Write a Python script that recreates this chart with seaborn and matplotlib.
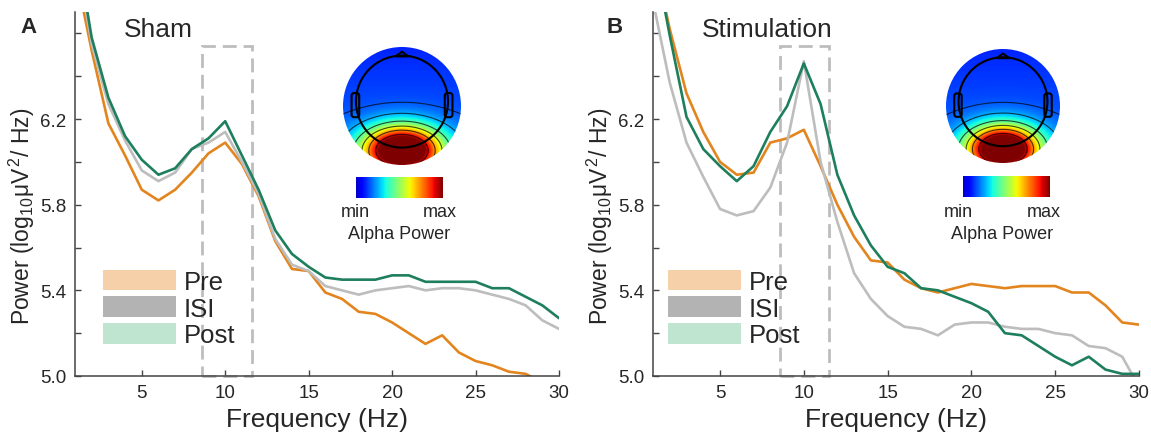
import numpy as np
import pandas as pd
import matplotlib
matplotlib.use('Agg')
import matplotlib.pyplot as plt
import seaborn as sns
from matplotlib.patches import Patch, Rectangle, Circle, Polygon, FancyBboxPatch

# %% data
freqs = list(range(1, 31))

sham_pre = [6.90, 6.52, 6.18, 6.03, 5.87, 5.82, 5.87, 5.95, 6.04, 6.09,
            5.99, 5.84, 5.63, 5.50, 5.49, 5.39, 5.36, 5.30, 5.29, 5.25,
            5.20, 5.15, 5.19, 5.11, 5.07, 5.05, 5.02, 5.01, 4.97, 4.95]
sham_isi = [7.00, 6.55, 6.27, 6.10, 5.96, 5.91, 5.95, 6.06, 6.09, 6.14,
            6.00, 5.85, 5.64, 5.52, 5.49, 5.42, 5.40, 5.38, 5.40, 5.41,
            5.42, 5.40, 5.41, 5.41, 5.40, 5.38, 5.36, 5.33, 5.26, 5.22]
sham_post = [7.05, 6.58, 6.30, 6.12, 6.01, 5.94, 5.97, 6.06, 6.11, 6.19,
             6.03, 5.87, 5.68, 5.57, 5.51, 5.46, 5.45, 5.45, 5.45, 5.47,
             5.47, 5.44, 5.44, 5.44, 5.44, 5.41, 5.41, 5.37, 5.33, 5.27]

stim_pre = [6.98, 6.62, 6.32, 6.14, 6.00, 5.94, 5.95, 6.09, 6.11, 6.15,
            5.98, 5.80, 5.65, 5.54, 5.53, 5.45, 5.41, 5.39, 5.41, 5.43,
            5.42, 5.41, 5.42, 5.42, 5.42, 5.39, 5.39, 5.33, 5.25, 5.24]
stim_isi = [6.75, 6.37, 6.09, 5.93, 5.78, 5.75, 5.77, 5.88, 6.09, 6.47,
            6.00, 5.72, 5.48, 5.36, 5.28, 5.23, 5.22, 5.19, 5.24, 5.25,
            5.25, 5.23, 5.22, 5.22, 5.20, 5.19, 5.14, 5.13, 5.09, 4.95]
stim_post = [7.00, 6.59, 6.21, 6.06, 5.98, 5.91, 5.98, 6.14, 6.26, 6.46,
             6.27, 5.94, 5.75, 5.61, 5.51, 5.48, 5.41, 5.40, 5.37, 5.34,
             5.30, 5.20, 5.19, 5.14, 5.09, 5.05, 5.09, 5.03, 5.01, 5.01]

conditions = ['Pre', 'ISI', 'Post']
line_colors = {'Pre': '#E3851F', 'ISI': '#BDBDBD', 'Post': '#1E7F5C'}
legend_colors = ['#F5D0A9', '#B3B3B3', '#BFE5D1']

# alpha band boxes (Hz) and box top
sham_band = (8.6, 11.6)
stim_band = (8.55, 11.5)
band_top = 6.54

# %% style
sns.set_style('ticks')
plt.rcParams['font.family'] = ['Liberation Sans', 'DejaVu Sans']
plt.rcParams['mathtext.fontset'] = 'custom'
plt.rcParams['mathtext.rm'] = 'Liberation Sans'
plt.rcParams['mathtext.it'] = 'Liberation Sans:italic'
plt.rcParams['mathtext.default'] = 'regular'

W, H = 1151, 435
fig = plt.figure(figsize=(W / 100, H / 100), dpi=100)


def px_rect(x0, y0, x1, y1):
    # pixel box (top-left origin) -> figure fraction rect
    return [x0 / W, 1 - y1 / H, (x1 - x0) / W, (y1 - y0) / H]


def draw_panel(ax, pre, isi, post, band, title, letter, letter_x):
    df = pd.DataFrame({
        'freq': freqs * 3,
        'power': pre + isi + post,
        'condition': ['Pre'] * 30 + ['ISI'] * 30 + ['Post'] * 30,
    })
    sns.lineplot(data=df, x='freq', y='power', hue='condition', hue_order=conditions,
                 palette=line_colors, linewidth=1.9, legend=False, ax=ax)
    ax.set_xlim(1, 30)
    ax.set_ylim(5.0, 6.7)
    ax.set_xticks([5, 10, 15, 20, 25, 30])
    ax.set_yticks([5.0, 5.4, 5.8, 6.2])
    ax.set_yticks([5.2, 5.6, 6.0, 6.4, 6.6], minor=True)
    ax.set_yticklabels(['5.0', '5.4', '5.8', '6.2'])
    ax.tick_params(axis='both', which='both', direction='in', length=4, width=1,
                   color='#444444', labelsize=13.5, pad=6)
    sns.despine(ax=ax)
    for s in ['left', 'bottom']:
        ax.spines[s].set_color('#444444')
        ax.spines[s].set_linewidth(1.1)
    ax.set_xlabel('Frequency (Hz)', fontsize=19, labelpad=4)
    ax.set_ylabel(r'Power (log$_{10}\mu$V$^{\,2}$/ Hz)', fontsize=16.5)
    ax.yaxis.set_label_coords(-0.079, 0.44)

    rect = Rectangle((band[0], 5.0), band[1] - band[0], band_top - 5.0, fill=False,
                     edgecolor='#BDBDBD', linewidth=2, linestyle=(0, (5, 2.5)), clip_on=False, zorder=1)
    ax.add_patch(rect)

    ax.text(0.10, 0.934, title, transform=ax.transAxes, fontsize=19, ha='left', va='baseline')
    ax.text(letter_x, 0.945, letter, transform=ax.transAxes, fontsize=16, fontweight='bold',
            ha='left', va='baseline')

    handles = [Patch(facecolor=c, edgecolor='none') for c in legend_colors]
    ax.legend(handles, conditions, loc='upper left', bbox_to_anchor=(legend_x[letter], 0.292),
              frameon=False, fontsize=18.5, handlelength=2.85, handleheight=0.85,
              labelspacing=0.1, handletextpad=0.3, borderpad=0, borderaxespad=0)


legend_x = {'A': 0.058, 'B': 0.031}


def draw_topo(cx, cy, r, blob_w, blob_h, blob_y):
    half = 1.08 * r
    tax = fig.add_axes(px_rect(cx - half, cy - half, cx + half, cy + half))
    g = np.linspace(-1.08, 1.08, 300)
    X, Y = np.meshgrid(g, g)
    Z = 0.16 + 0.04 * (1 - Y) + 1.1 * np.exp(-(X / blob_w) ** 2 - ((Y - blob_y) / blob_h) ** 2)
    Z = np.clip(Z, 0, 1)
    im = tax.imshow(Z, extent=(-1.08, 1.08, -1.08, 1.08), origin='lower', cmap='jet',
                    vmin=0, vmax=1, interpolation='bilinear')
    disk = Circle((0, 0), 1.0, transform=tax.transData)
    im.set_clip_path(disk)
    cs = tax.contour(X, Y, Z, levels=[0.215, 0.3, 0.45, 0.6, 0.75, 0.92],
                     colors='k', linewidths=0.8, alpha=0.7)
    cs.set_clip_path(disk)
    tax.add_patch(Circle((0, 0.075), 0.78, fill=False, edgecolor='k', linewidth=1.5))
    tax.add_patch(Polygon([(-0.11, 0.84), (0, 0.92), (0.11, 0.84)], closed=True, fill=False,
                          edgecolor='k', linewidth=1.5))
    for sx in (-1, 1):
        tax.add_patch(FancyBboxPatch((sx * 0.79 - 0.045, -0.17), 0.09, 0.37,
                                     boxstyle='round,pad=0.02,rounding_size=0.045',
                                     fill=False, edgecolor='k', linewidth=1.5))
    tax.set_xlim(-1.08, 1.08)
    tax.set_ylim(-1.08, 1.08)
    tax.axis('off')


def draw_cbar(x0, y0, x1, y1, min_x, max_x, label_x):
    cax = fig.add_axes(px_rect(x0, y0, x1, y1))
    cax.imshow(np.linspace(0.06, 1, 256)[None, :], aspect='auto', cmap='jet', vmin=0, vmax=1)
    cax.axis('off')
    fig.text(min_x / W, 1 - 213 / H, 'min', fontsize=13, ha='center', va='center')
    fig.text(max_x / W, 1 - 213 / H, 'max', fontsize=13, ha='center', va='center')
    fig.text(label_x / W, 1 - 235 / H, 'Alpha Power', fontsize=13, ha='center', va='center')


# %% panels
ax_a = fig.add_axes(px_rect(75, 13, 559, 377))
ax_b = fig.add_axes(px_rect(653, 13, 1139, 377))

draw_panel(ax_a, sham_pre, sham_isi, sham_post, sham_band, 'Sham', 'A', -0.112)
draw_panel(ax_b, stim_pre, stim_isi, stim_post, stim_band, 'Stimulation', 'B', -0.095)

# topographic insets
draw_topo(402, 107, 59, 0.65, 0.40, -0.75)
draw_cbar(356, 178, 443, 199, 355, 440, 399)
draw_topo(1003, 107, 57, 0.62, 0.40, -0.75)
draw_cbar(963, 177, 1050, 198, 958, 1044, 1002)

plt.savefig('out.png', dpi=100)
